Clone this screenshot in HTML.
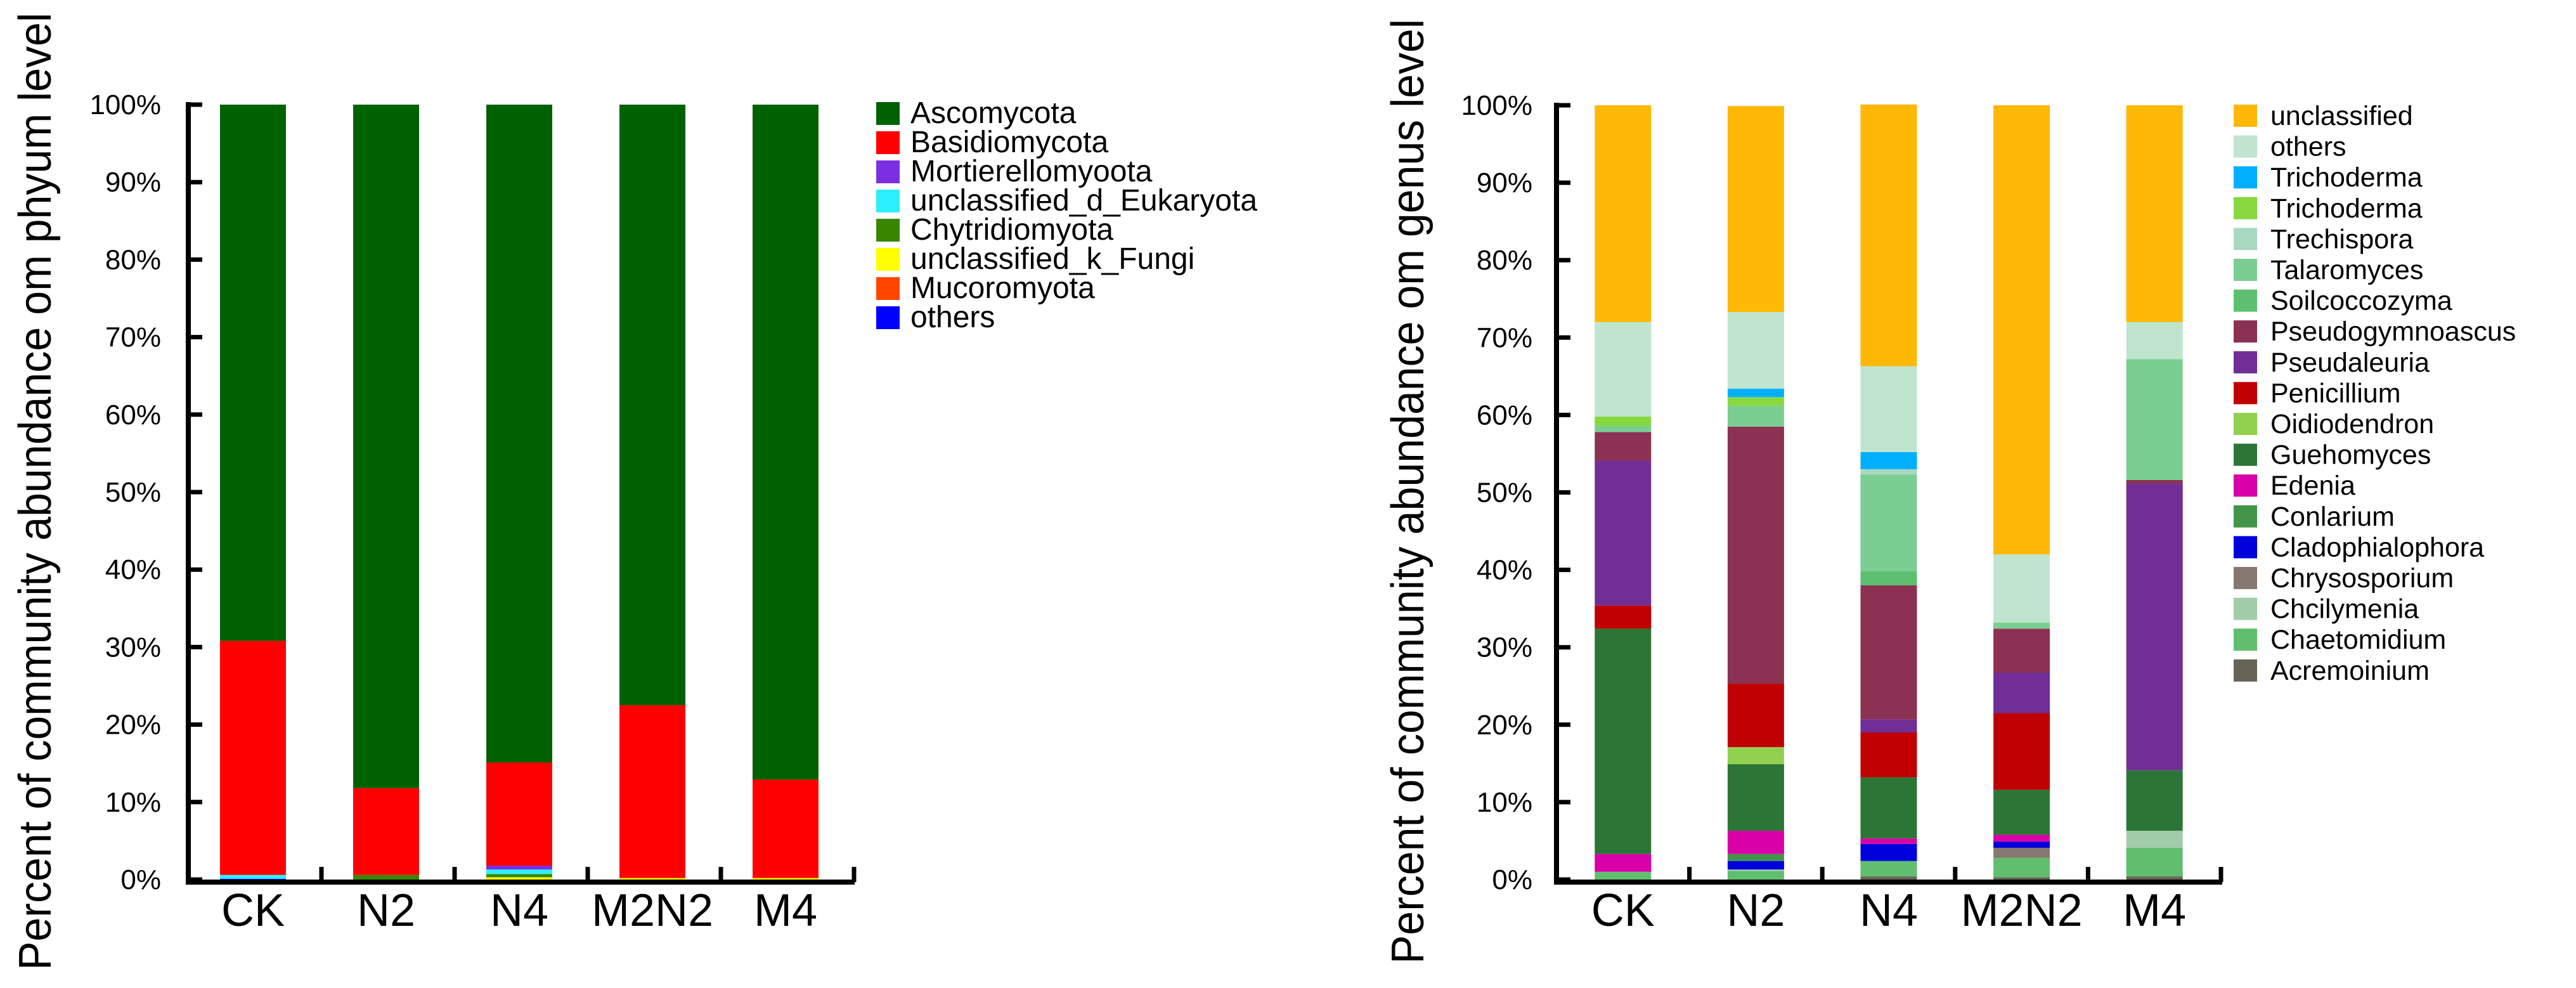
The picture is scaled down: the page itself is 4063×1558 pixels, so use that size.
<!DOCTYPE html>
<html><head><meta charset="utf-8"><style>
html,body{margin:0;padding:0;background:#fff;}
svg{display:block;}
text{font-family:"Liberation Sans",sans-serif;fill:#000;}
</style></head><body>
<svg id="c" width="4063" height="1558" viewBox="0 0 4063 1558" xmlns="http://www.w3.org/2000/svg"></svg>
<script>
// ---------- data ----------
const categories = ["CK","N2","N4","M2N2","M4"];
const yTicks = [0,10,20,30,40,50,60,70,80,90,100];
const yTickLabels = ["0%","10%","20%","30%","40%","50%","60%","70%","80%","90%","100%"];

// phylum (stack bottom -> top)
const phylumNames = ["others","Mucoromyota","unclassified_k_Fungi","Chytridiomyota","unclassified_d_Eukaryota","Mortierellomyoota","Basidiomycota","Ascomycota"];
const phylumColors = ["#0000FF","#FF4500","#FFFF00","#3A8500","#2CF0FF","#7B2FE0","#FF0000","#006100"];
const phyOthers = [0.1,0,0,0,0];
const phyMucoro = [0,0,0,0,0];
const phyUnclK = [0,0,0.3,0.2,0.2];
const phyChytrid = [0,0.6,0.4,0,0];
const phyUnclD = [0.5,0,0.6,0,0];
const phyMort = [0,0,0.5,0,0];
const phyBasidio = [30.2,11.2,13.3,22.3,12.7];
const phyAsco = [69.2,88.2,84.9,77.5,87.1];

// genus (stack bottom -> top)
const genusNames = ["Acremoinium","Chaetomidium","Chcilymenia","Chrysosporium","Cladophialophora","Conlarium","Edenia","Guehomyces","Oidiodendron","Penicillium","Pseudaleuria","Pseudogymnoascus","Soilcoccozyma","Talaromyces","Trechispora","Trichoderma","Trichoderma","others","unclassified"];
const genusColors = ["#666455","#60BE6E","#A0CCAA","#857870","#0000DC","#43954A","#D800A6","#2B7637","#92D050","#C00000","#702E96","#8B3152","#5DBF70","#7BCE91","#A8D8C0","#88D840","#00B0FF","#BFE5CF","#FFB805"];
const gAcrem = [0,0,0.4,0.3,0.4];
const gChaet = [1.0,1.1,2.0,2.5,3.7];
const gChcily = [0,0.2,0,0,2.2];
const gChryso = [0,0,0,1.3,0];
const gClado = [0,1.1,2.2,0.8,0];
const gConlar = [0,0.9,0,0,0];
const gEdenia = [2.3,3.0,0.7,0.9,0];
const gGuehom = [29.1,8.6,7.9,5.8,7.8];
const gOidio = [0,2.2,0,0,0];
const gPenic = [3.0,8.2,5.8,9.9,0];
const gPseudal = [18.7,0,1.7,5.2,37.0];
const gPseudog = [3.7,33.2,17.3,5.7,0.5];
const gSoilc = [0,0,1.8,0,0];
const gTalaro = [0.8,2.7,12.5,0.8,15.6];
const gTrech = [0,0,0.7,0,0];
const gTrichoG = [1.2,1.1,0,0,0];
const gTrichoB = [0,1.1,2.2,0,0];
const gOthers = [12.2,9.9,11.1,8.8,4.8];
const gUncl = [28.0,26.6,33.8,58.0,28.0];

const phylumSeries = [phyOthers,phyMucoro,phyUnclK,phyChytrid,phyUnclD,phyMort,phyBasidio,phyAsco];
const genusSeries = [gAcrem,gChaet,gChcily,gChryso,gClado,gConlar,gEdenia,gGuehom,gOidio,gPenic,gPseudal,gPseudog,gSoilc,gTalaro,gTrech,gTrichoG,gTrichoB,gOthers,gUncl];

// ---------- drawing ----------
const svg = document.getElementById('c');
const NS = "http://www.w3.org/2000/svg";
function mk(tag, attrs, parent){
  const e = document.createElementNS(NS, tag);
  for (const k in attrs) e.setAttribute(k, attrs[k]);
  (parent||svg).appendChild(e);
  return e;
}

function drawChart(cfg){
  const g = mk('g', {});
  
  
  const y = v => cfg.y0 - (v/100)*(cfg.y0 - cfg.y100);
  const xc = i => cfg.axisX + cfg.band*(i+0.5) + cfg.offset;

  categories.forEach((cat, i) => {
    let acc = 0;
    cfg.series.forEach((s, k) => {
      const v = s[i];
      if (v <= 0) { return; }
      const r = mk('rect', {x: xc(i)-cfg.barW/2, y: y(acc+v), width: cfg.barW, height: y(acc)-y(acc+v), fill: cfg.colors[k]}, g);
      
      
      acc += v;
    });
  });

  const ya = mk('line', {x1: cfg.axisX, y1: cfg.y100-4, x2: cfg.axisX, y2: cfg.y0+4, stroke:'#000','stroke-width':8}, g);
  
  
  const xa = mk('line', {x1: cfg.axisX-4, y1: cfg.y0+4, x2: cfg.axisEnd, y2: cfg.y0+4, stroke:'#000','stroke-width':8}, g);
  
  

  yTicks.forEach((t, i) => {
    const ty = y(t);
    const tk = mk('line', {x1: cfg.axisX, y1: ty, x2: cfg.axisX+22, y2: ty, stroke:'#000','stroke-width':7}, g);
    
    
    const lb = mk('text', {x: cfg.tickLabelX, y: ty+15, 'text-anchor':'end', 'font-size':44}, g);
    lb.textContent = yTickLabels[i];
    
    
  });

  categories.forEach((cat, i) => {
    const bx = cfg.axisX + cfg.band*(i+1);
    const tk = mk('line', {x1: bx, y1: cfg.y0+4, x2: bx, y2: cfg.y0-20, stroke:'#000','stroke-width':7}, g);
    
    
    const lb = mk('text', {x: xc(i), y: 1460, 'text-anchor':'middle', 'font-size':72}, g);
    lb.textContent = cat;
    
    
  });

  const tt = mk('text', {x: 0, y: 0, 'text-anchor':'middle', 'font-size':72, textLength: cfg.titleLen, lengthAdjust:'spacingAndGlyphs', transform:`translate(${cfg.titleX},775) rotate(-90)`}, g);
  tt.textContent = cfg.title;
  
  

  const n = cfg.names.length;
  for (let j = 0; j < n; j++) {
    const k = n-1-j;
    const ly = cfg.legY + j*cfg.legStep;
    const it = mk('g', {}, g);
    
    
    const sw = mk('rect', {x: cfg.legX, y: ly, width: 37, height: cfg.swH, fill: cfg.colors[k]}, it);
    
    
    const tx = mk('text', {x: cfg.legTextX, y: ly + cfg.swH - 3, 'font-size': cfg.legFont, 'font-family': cfg.legFamily}, it);
    tx.textContent = cfg.names[k];
    
    
  }
}

drawChart({name:'phylum-chart', series: phylumSeries, names: phylumNames, colors: phylumColors,
  axisX: 297, axisEnd: 1348, band: 210, offset: -3, barW: 104, y0: 1387, y100: 165, tickLabelX: 254,
  title: 'Percent of community abundance om phyum level', titleX: 80, titleLen: 1510,
  legX: 1382, legTextX: 1436, legY: 161, legStep: 46, swH: 36, legFont: 48, legFamily: '"Liberation Sans", sans-serif'});

drawChart({name:'genus-chart', series: genusSeries, names: genusNames, colors: genusColors,
  axisX: 2455, axisEnd: 3505, band: 209.6, offset: 0, barW: 89, y0: 1387, y100: 166, tickLabelX: 2417,
  title: 'Percent of community abundance om genus level', titleX: 2245, titleLen: 1490,
  legX: 3523, legTextX: 3581, legY: 165, legStep: 48.6, swH: 35, legFont: 43, legFamily: '"DejaVu Sans", sans-serif'});
</script>
</body></html>
